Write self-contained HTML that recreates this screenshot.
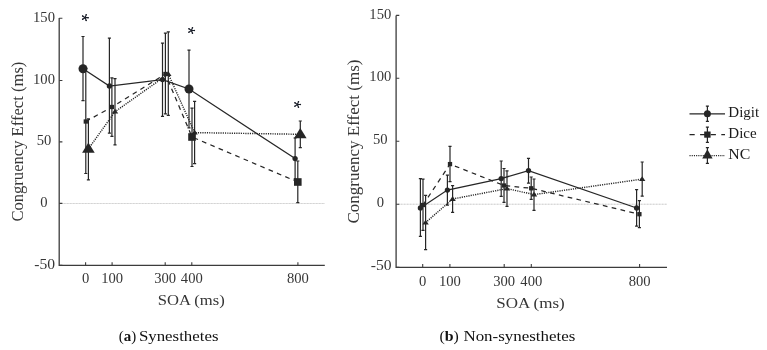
<!DOCTYPE html>
<html><head><meta charset="utf-8"><title>Congruency effect</title>
<style>html,body{margin:0;padding:0;background:#fff;}body{width:767px;height:350px;overflow:hidden;}svg{display:block;will-change:transform;}text{font-family:"Liberation Serif",serif;}</style>
</head><body>
<svg width="767" height="350" viewBox="0 0 767 350">
<rect width="767" height="350" fill="#fff"/>
<line x1="61.2" y1="203.5" x2="324.8" y2="203.5" stroke="#e4e4e4" stroke-width="1.1"/>
<line x1="61.2" y1="203.5" x2="324.8" y2="203.5" stroke="#d0d0d0" stroke-width="1.1" stroke-dasharray="1.2 1.8"/>
<path d="M59.2 18V265.4H324.8" fill="none" stroke="#3c3c3c" stroke-width="1.3"/>
<path d="M59.2 18.3H62.4M59.2 80.5H62.4M59.2 141.9H62.4M59.2 203.4H62.4M59.2 265.4H62.4M85.6 265.4V262.2M112.1 265.4V262.2M165.2 265.4V262.2M191.8 265.4V262.2M297.9 265.4V262.2" fill="none" stroke="#3c3c3c" stroke-width="1.1"/>
<g fill="#363636" font-size="15" text-anchor="middle">
<text x="44" y="21.9" textLength="21.9" lengthAdjust="spacingAndGlyphs">150</text>
<text x="44" y="83.6" textLength="21.9" lengthAdjust="spacingAndGlyphs">100</text>
<text x="44" y="145" textLength="14.6" lengthAdjust="spacingAndGlyphs">50</text>
<text x="44" y="206.5" textLength="7.3" lengthAdjust="spacingAndGlyphs">0</text>
<text x="44.6" y="268.5" textLength="20.8" lengthAdjust="spacingAndGlyphs">-50</text>
<text x="85.6" y="282.6" textLength="7.3" lengthAdjust="spacingAndGlyphs">0</text>
<text x="112.1" y="282.6" textLength="21.9" lengthAdjust="spacingAndGlyphs">100</text>
<text x="165.2" y="282.6" textLength="21.9" lengthAdjust="spacingAndGlyphs">300</text>
<text x="191.8" y="282.6" textLength="21.9" lengthAdjust="spacingAndGlyphs">400</text>
<text x="297.9" y="282.6" textLength="21.9" lengthAdjust="spacingAndGlyphs">800</text>
</g>
<text x="191.3" y="304.8" font-size="15" fill="#363636" text-anchor="middle" textLength="67" lengthAdjust="spacingAndGlyphs">SOA (ms)</text>
<text transform="translate(23.4 141.6) rotate(-90)" font-size="16.5" fill="#363636" text-anchor="middle" textLength="160" lengthAdjust="spacingAndGlyphs">Congruency Effect (ms)</text>
<text x="118.8" y="340.5" font-size="14.5" fill="#111" textLength="17.5" lengthAdjust="spacingAndGlyphs">(<tspan font-weight="bold">a</tspan>)</text>
<text x="138.9" y="340.5" font-size="14.5" fill="#111" textLength="79.6" lengthAdjust="spacingAndGlyphs">Synesthetes</text>
<polyline points="85.8,121.5 111.9,107 165.4,74 192,137 297.8,182" fill="none" stroke="#262626" stroke-width="1.25" stroke-dasharray="4.7 4.35"/>
<polyline points="88.4,148.9 115,111.7 168.3,74 194.6,132.6 300.3,134.3" fill="none" stroke="#262626" stroke-width="1.45" stroke-dasharray="1.15 1.11"/>
<polyline points="83,68.7 109.4,86 162.5,79.6 189,89 295.1,158.6" fill="none" stroke="#262626" stroke-width="1.25"/>
<g stroke="#262626" stroke-width="1.2" fill="none">
<path d="M83 36.5V100.6M81.45 36.5H84.55M81.45 100.6H84.55" />
<path d="M109.4 38.2V133.1M107.85 38.2H110.95M107.85 133.1H110.95" />
<path d="M162.5 43.2V116.3M160.95 43.2H164.05M160.95 116.3H164.05" />
<path d="M189 50.1V127.9M187.45 50.1H190.55M187.45 127.9H190.55" />
<path d="M295.1 138V179.2M293.55 138H296.65M293.55 179.2H296.65" />
<path d="M85.8 68.5V173.5M84.25 68.5H87.35M84.25 173.5H87.35" />
<path d="M111.9 77.9V136.3M110.35 77.9H113.45M110.35 136.3H113.45" />
<path d="M165.4 33.1V113.8M163.85 33.1H166.95M163.85 113.8H166.95" />
<path d="M192 108.1V166.5M190.45 108.1H193.55M190.45 166.5H193.55" />
<path d="M297.8 161V202.7M296.25 161H299.35M296.25 202.7H299.35" />
<path d="M88.4 118.8V179.9M86.85 118.8H89.95M86.85 179.9H89.95" />
<path d="M115 78.6V144.9M113.45 78.6H116.55M113.45 144.9H116.55" />
<path d="M168.3 31.8V115.3M166.75 31.8H169.85M166.75 115.3H169.85" />
<path d="M194.6 101.4V163.6M193.05 101.4H196.15M193.05 163.6H196.15" />
<path d="M300.3 121V147.7M298.75 121H301.85M298.75 147.7H301.85" />
</g>
<g fill="#262626">
<path d="M88.4 142.6L94.7 152.8L82.1 152.8Z"/>
<path d="M115 108.8L118.2 113.6L111.8 113.6Z"/>
<path d="M168.3 71.1L171.5 75.9L165.1 75.9Z"/>
<path d="M194.6 129.7L197.8 134.5L191.4 134.5Z"/>
<path d="M300.3 128L306.6 138.2L294 138.2Z"/>
<rect x="83.65" y="119.35" width="4.3" height="4.3"/>
<rect x="109.75" y="104.85" width="4.3" height="4.3"/>
<rect x="163.25" y="71.85" width="4.3" height="4.3"/>
<rect x="188.2" y="133.2" width="7.6" height="7.6"/>
<rect x="294" y="178.2" width="7.6" height="7.6"/>
<circle cx="83" cy="68.7" r="4.5"/>
<circle cx="109.4" cy="86" r="2.65"/>
<circle cx="162.5" cy="79.6" r="2.65"/>
<circle cx="189" cy="89" r="4.5"/>
<circle cx="295.1" cy="158.6" r="2.65"/>
</g>
<g fill="#1b1f2a"><path d="M85.1 17.65L88.1 17.65M85.1 17.65L86.18 14.85M85.1 17.65L82.61 15.97M85.1 17.65L82.61 19.33M85.1 17.65L86.18 20.45" stroke="#1b1f2a" stroke-width="1.15" stroke-linecap="round" fill="none"/><circle cx="88.1" cy="17.65" r="0.75"/><circle cx="86.18" cy="14.85" r="0.75"/><circle cx="82.61" cy="15.97" r="0.75"/><circle cx="82.61" cy="19.33" r="0.75"/><circle cx="86.18" cy="20.45" r="0.75"/></g>
<g fill="#1b1f2a"><path d="M191.4 30.45L194.4 30.45M191.4 30.45L192.48 27.65M191.4 30.45L188.91 28.77M191.4 30.45L188.91 32.13M191.4 30.45L192.48 33.25" stroke="#1b1f2a" stroke-width="1.15" stroke-linecap="round" fill="none"/><circle cx="194.4" cy="30.45" r="0.75"/><circle cx="192.48" cy="27.65" r="0.75"/><circle cx="188.91" cy="28.77" r="0.75"/><circle cx="188.91" cy="32.13" r="0.75"/><circle cx="192.48" cy="33.25" r="0.75"/></g>
<g fill="#1b1f2a"><path d="M297.4 104.45L300.4 104.45M297.4 104.45L298.48 101.65M297.4 104.45L294.91 102.77M297.4 104.45L294.91 106.13M297.4 104.45L298.48 107.25" stroke="#1b1f2a" stroke-width="1.15" stroke-linecap="round" fill="none"/><circle cx="300.4" cy="104.45" r="0.75"/><circle cx="298.48" cy="101.65" r="0.75"/><circle cx="294.91" cy="102.77" r="0.75"/><circle cx="294.91" cy="106.13" r="0.75"/><circle cx="298.48" cy="107.25" r="0.75"/></g>
<line x1="398.1" y1="204.3" x2="667" y2="204.3" stroke="#e4e4e4" stroke-width="1.1"/>
<line x1="398.1" y1="204.3" x2="667" y2="204.3" stroke="#d0d0d0" stroke-width="1.1" stroke-dasharray="1.2 1.8"/>
<path d="M396.1 15.4V267.3H667" fill="none" stroke="#3c3c3c" stroke-width="1.3"/>
<path d="M396.1 15.4H399.3M396.1 78.2H399.3M396.1 141.2H399.3M396.1 204.3H399.3M396.1 267.3H399.3M422.7 267.3V264.1M449.9 267.3V264.1M504.2 267.3V264.1M531.3 267.3V264.1M639.6 267.3V264.1" fill="none" stroke="#3c3c3c" stroke-width="1.1"/>
<g fill="#363636" font-size="15" text-anchor="middle">
<text x="380.3" y="18.5" textLength="21.9" lengthAdjust="spacingAndGlyphs">150</text>
<text x="380.3" y="81.3" textLength="21.9" lengthAdjust="spacingAndGlyphs">100</text>
<text x="380.3" y="144.3" textLength="14.6" lengthAdjust="spacingAndGlyphs">50</text>
<text x="380.3" y="207.4" textLength="7.3" lengthAdjust="spacingAndGlyphs">0</text>
<text x="381.2" y="270.4" textLength="20.8" lengthAdjust="spacingAndGlyphs">-50</text>
<text x="422.7" y="285.8" textLength="7.3" lengthAdjust="spacingAndGlyphs">0</text>
<text x="449.9" y="285.8" textLength="21.9" lengthAdjust="spacingAndGlyphs">100</text>
<text x="504.2" y="285.8" textLength="21.9" lengthAdjust="spacingAndGlyphs">300</text>
<text x="531.3" y="285.8" textLength="21.9" lengthAdjust="spacingAndGlyphs">400</text>
<text x="639.6" y="285.8" textLength="21.9" lengthAdjust="spacingAndGlyphs">800</text>
</g>
<text x="530.5" y="307.7" font-size="15" fill="#363636" text-anchor="middle" textLength="68.5" lengthAdjust="spacingAndGlyphs">SOA (ms)</text>
<text transform="translate(359 141.5) rotate(-90)" font-size="16.5" fill="#363636" text-anchor="middle" textLength="164" lengthAdjust="spacingAndGlyphs">Congruency Effect (ms)</text>
<text x="439.5" y="340.5" font-size="14.5" fill="#111" textLength="19.4" lengthAdjust="spacingAndGlyphs">(<tspan font-weight="bold">b</tspan>)</text>
<text x="463.4" y="340.5" font-size="14.5" fill="#111" textLength="112" lengthAdjust="spacingAndGlyphs">Non-synesthetes</text>
<polyline points="423,205 450,164.1 504,185.5 531.2,188.3 639.4,214.2" fill="none" stroke="#262626" stroke-width="1.25" stroke-dasharray="4.7 4.35"/>
<polyline points="425.6,222.6 452.6,199 507,188.6 534,194.6 642.2,179.1" fill="none" stroke="#262626" stroke-width="1.45" stroke-dasharray="1.15 1.11"/>
<polyline points="420.4,207.9 447.4,190.1 501.2,178.6 528.5,170.6 636.6,208" fill="none" stroke="#262626" stroke-width="1.25"/>
<g stroke="#262626" stroke-width="1.2" fill="none">
<path d="M420.4 178.6V236.4M418.85 178.6H421.95M418.85 236.4H421.95" />
<path d="M447.4 175.1V205.1M445.85 175.1H448.95M445.85 205.1H448.95" />
<path d="M501.2 161V196.4M499.65 161H502.75M499.65 196.4H502.75" />
<path d="M528.5 158.3V183.1M526.95 158.3H530.05M526.95 183.1H530.05" />
<path d="M636.6 189.7V226.1M635.05 189.7H638.15M635.05 226.1H638.15" />
<path d="M423 179.1V230.3M421.45 179.1H424.55M421.45 230.3H424.55" />
<path d="M450 146.4V181.7M448.45 146.4H451.55M448.45 181.7H451.55" />
<path d="M504 168.5V202.4M502.45 168.5H505.55M502.45 202.4H505.55" />
<path d="M531.2 177V199.3M529.65 177H532.75M529.65 199.3H532.75" />
<path d="M639.4 200.7V227.6M637.85 200.7H640.95M637.85 227.6H640.95" />
<path d="M425.6 195.4V249.6M424.05 195.4H427.15M424.05 249.6H427.15" />
<path d="M452.6 185.6V212.4M451.05 185.6H454.15M451.05 212.4H454.15" />
<path d="M507 170.9V206.3M505.45 170.9H508.55M505.45 206.3H508.55" />
<path d="M534 179V210.3M532.45 179H535.55M532.45 210.3H535.55" />
<path d="M642.2 162V196.1M640.65 162H643.75M640.65 196.1H643.75" />
</g>
<g fill="#262626">
<path d="M425.6 219.7L428.8 224.5L422.4 224.5Z"/>
<path d="M452.6 196.1L455.8 200.9L449.4 200.9Z"/>
<path d="M507 185.7L510.2 190.5L503.8 190.5Z"/>
<path d="M534 191.7L537.2 196.5L530.8 196.5Z"/>
<path d="M642.2 176.2L645.4 181L639 181Z"/>
<rect x="420.85" y="202.85" width="4.3" height="4.3"/>
<rect x="447.85" y="161.95" width="4.3" height="4.3"/>
<rect x="501.85" y="183.35" width="4.3" height="4.3"/>
<rect x="529.05" y="186.15" width="4.3" height="4.3"/>
<rect x="637.25" y="212.05" width="4.3" height="4.3"/>
<circle cx="420.4" cy="207.9" r="2.65"/>
<circle cx="447.4" cy="190.1" r="2.65"/>
<circle cx="501.2" cy="178.6" r="2.65"/>
<circle cx="528.5" cy="170.6" r="2.65"/>
<circle cx="636.6" cy="208" r="2.65"/>
</g>
<line x1="689.5" y1="113.8" x2="725.0" y2="113.8" stroke="#262626" stroke-width="1.25"/>
<g stroke="#262626" stroke-width="1.2" fill="none"><path d="M707.4 106.1V121.3M705.85 106.1H708.95M705.85 121.3H708.95" /></g>
<circle cx="707.4" cy="113.8" r="3.5" fill="#262626"/>
<text x="728.3" y="116.9" font-size="15" fill="#1a1a1a">Digit</text>
<line x1="689.5" y1="134.6" x2="725.0" y2="134.6" stroke="#262626" stroke-width="1.25" stroke-dasharray="5.2 5.4"/>
<g stroke="#262626" stroke-width="1.2" fill="none"><path d="M707.4 127.1V142.4M705.85 127.1H708.95M705.85 142.4H708.95" /></g>
<rect x="704.2" y="131.5" width="6.4" height="6.2" fill="#262626"/>
<text x="728.3" y="138.0" font-size="15" fill="#1a1a1a">Dice</text>
<line x1="689.5" y1="155.6" x2="725.0" y2="155.6" stroke="#262626" stroke-width="1.2" stroke-dasharray="1.1 1.1"/>
<g stroke="#262626" stroke-width="1.2" fill="none"><path d="M707.4 147.6V163.4M705.85 147.6H708.95M705.85 163.4H708.95" /></g>
<path d="M707.4 149.2L712.6 158.4L702.2 158.4Z" fill="#262626"/>
<text x="728.3" y="158.9" font-size="15" fill="#1a1a1a" textLength="22" lengthAdjust="spacingAndGlyphs">NC</text>
</svg>
</body></html>
